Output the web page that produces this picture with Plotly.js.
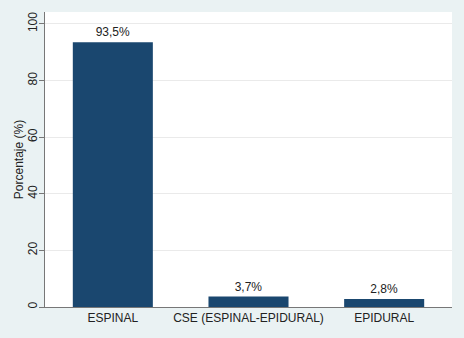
<!DOCTYPE html>
<html><head><meta charset="utf-8">
<script src="https://cdn.plot.ly/plotly-3.0.1.min.js"></script>
<style>html,body{margin:0;padding:0;background:#eaf2f3;}</style>
</head><body>
<div id="chart" style="width:464px;height:338px;"></div>
<script>
const categories = ["ESPINAL", "CSE (ESPINAL-EPIDURAL)", "EPIDURAL"];
const values = [93.5, 3.7, 2.8];
const labels = ["93,5%", "3,7%", "2,8%"];

Plotly.newPlot("chart", [{
  type: "bar",
  x: categories,
  y: values,
  text: labels,
  textposition: "outside",
  cliponaxis: false,
  textfont: {family: "Liberation Sans, Arial, sans-serif", size: 12, color: "#222"},
  marker: {color: "#1a476f", line: {width: 0}},
  width: 0.59,
  hoverinfo: "none"
}], {
  width: 464, height: 338,
  margin: {l: 45, r: 12, t: 12, b: 31},
  paper_bgcolor: "#eaf2f3",
  plot_bgcolor: "#ffffff",
  showlegend: false,
  font: {family: "Liberation Sans, Arial, sans-serif", size: 12, color: "#222"},
  xaxis: {
    type: "category",
    range: [-0.5, 2.5],
    showgrid: false,
    showline: true, linecolor: "#777", linewidth: 1,
    ticks: "", tickfont: {size: 12, color: "#222"},
    zeroline: false
  },
  yaxis: {
    range: [0, 104.2],
    tickvals: [0, 20, 40, 60, 80, 100],
    ticktext: ["0", "20", "40", "60", "80", "100"],
    tickangle: -90,
    ticks: "outside", ticklen: 5, tickcolor: "#777",
    ticklabelstandoff: -3,
    showline: true, linecolor: "#777", linewidth: 1,
    showgrid: true, gridcolor: "#eaeaea", gridwidth: 1,
    zeroline: false,
    tickfont: {size: 12, color: "#222"},
    title: {text: "Porcentaje (%)", font: {size: 12, color: "#222"}, standoff: 0}
  }
}, {displayModeBar: false, staticPlot: true});
</script>
</body></html>
